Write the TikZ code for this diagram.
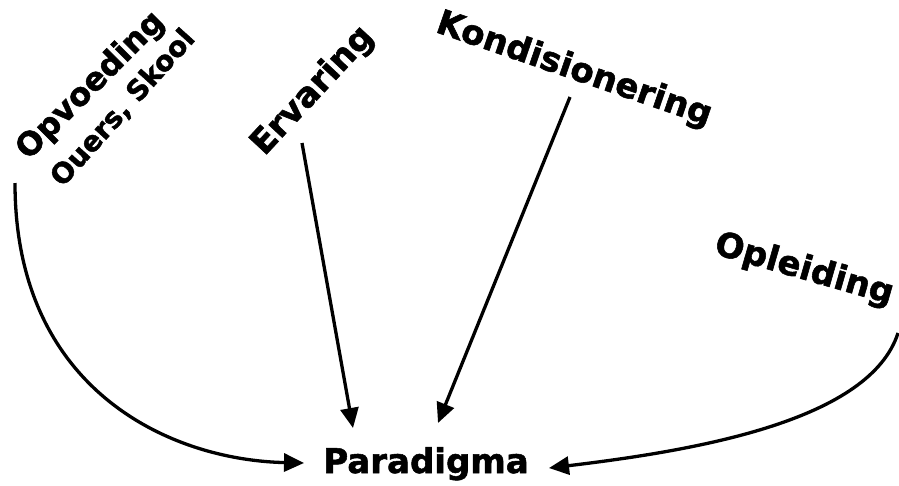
\documentclass[tikz,border=0pt]{standalone}
\usepackage{fontspec}
\setmainfont{DejaVu Sans}[BoldFeatures={FakeBold=1.6}]
\usetikzlibrary{arrows.meta}
\tikzset{
  lbl/.style={font=\bfseries\fontsize{34}{40}\selectfont, inner sep=0pt},
  sublbl/.style={font=\bfseries\fontsize{28}{34}\selectfont, inner sep=0pt},
  conn/.style={line width=3.3pt, -{Triangle[length=20pt,width=18pt]}}
}
\begin{document}
\begin{tikzpicture}[x=1pt,y=-1pt]
\useasboundingbox[fill=white] (0,0) rectangle (899,485);
\node[lbl, font=\bfseries\fontsize{32}{38}\selectfont, rotate=45] (op) at (91,86) {Opvoeding};
\node[sublbl, rotate=48] (ou) at (123,108) {Ouers, Skool};
\node[lbl, rotate=47] (erv) at (313,91) {Ervaring};
\node[lbl, rotate=-19] (kon) at (574,70) {Kondisionering};
\node[lbl, rotate=-16] (opl) at (804,270) {Opleiding};
\node[lbl, anchor=base] (par) at (426,473) {Paradigma};
\coordinate (s1) at (15,183);
\coordinate (e1) at (304,463);
\coordinate (s2) at (302,143);
\coordinate (e2) at (353,428);
\coordinate (s3) at (570,97);
\coordinate (e3) at (438,423);
\coordinate (s4) at (898,333);
\coordinate (e4) at (549,468);
\draw[conn] (s1) .. controls (15,390) and (170,460) .. (e1);
\draw[conn] (s2) -- (e2);
\draw[conn] (s3) -- (e3);
\draw[conn] (s4) .. controls (870,420) and (700,450) .. (e4);
\end{tikzpicture}
\end{document}
